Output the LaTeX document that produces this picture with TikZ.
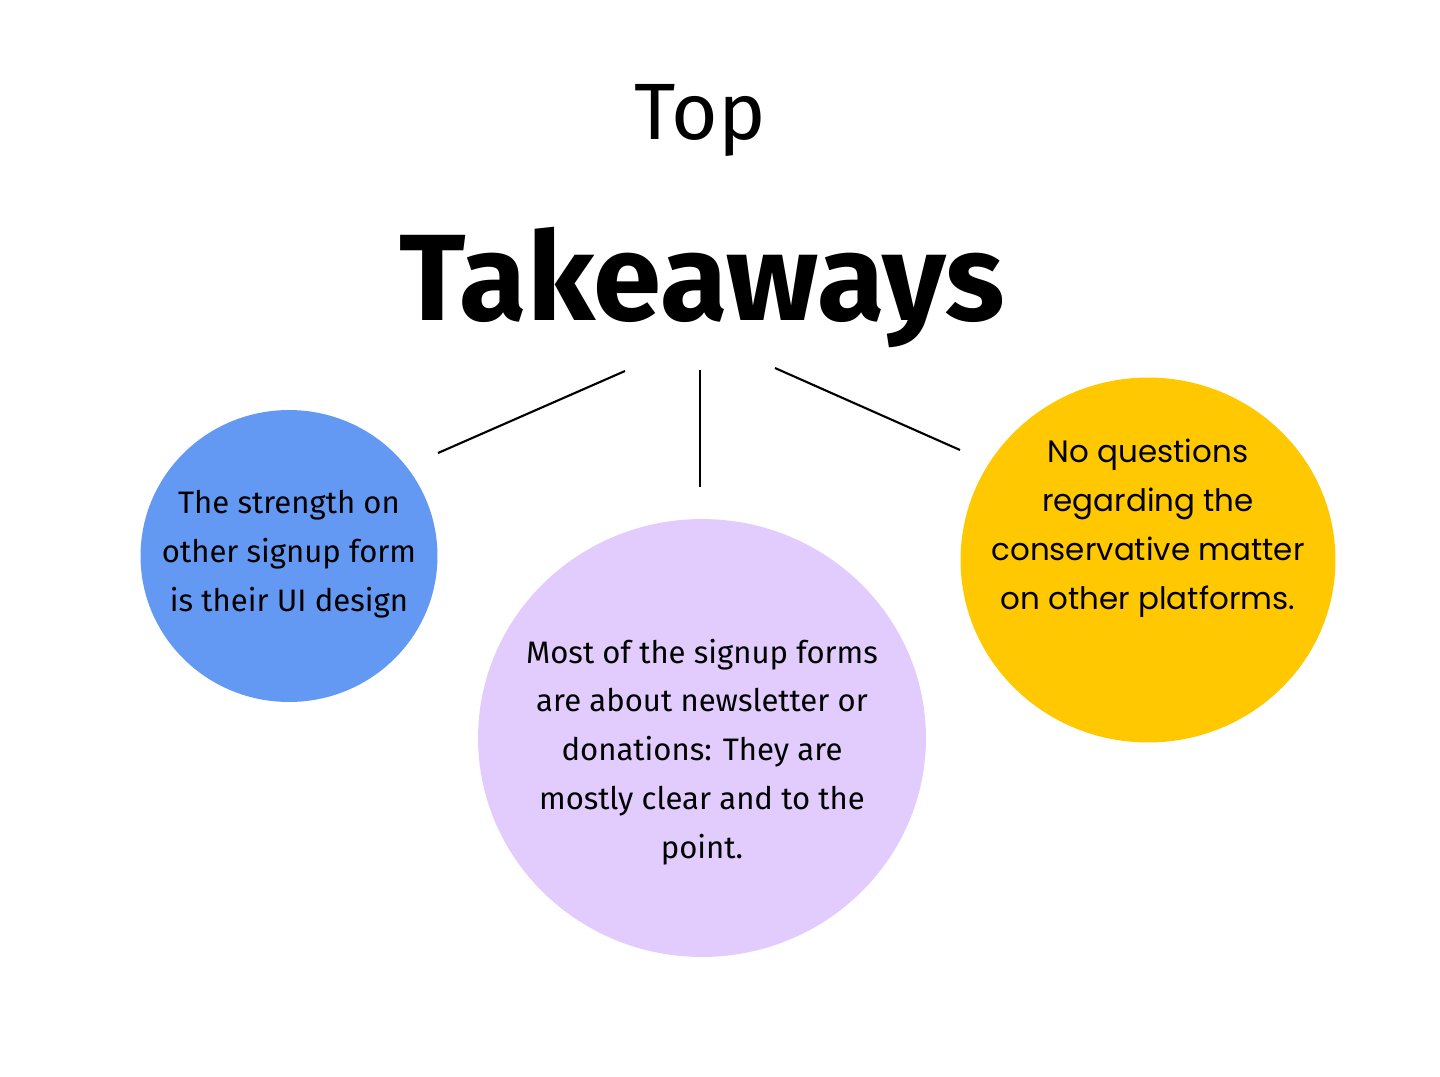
\documentclass[tikz,border=0pt]{standalone}
\usepackage{fontspec}
\setmainfont{Fira Sans}
\newfontfamily\roundfont{Poppins}
\usepackage{tikz}
\usetikzlibrary{shapes.geometric}
\definecolor{ballblue}{HTML}{6499F3}
\definecolor{balllilac}{HTML}{E2CCFD}
\definecolor{ballyellow}{HTML}{FFC800}

\tikzset{
  ball/.style={ellipse, inner sep=0pt},
  balltext/.style={align=center, font=\fontsize{17.7}{27.8}\selectfont},
  spoke/.style={line width=1.2pt}
}

\begin{document}
\begin{tikzpicture}[x=0.02cm,y=-0.02cm]
        \useasboundingbox (0,0) rectangle (1440,1076);

        % Titre
        \node[anchor=base] (top) at (700,139) {\fontsize{45.5}{54}\selectfont Top};
        \node[anchor=base] (takeaways) at (702,320) {\fontsize{70}{84}\selectfont\bfseries Takeaways};

        % Les trois bulles
        \node[ball, fill=ballblue, minimum width=5.94cm, minimum height=5.84cm] (left) at (289,556) {};
        \node[ball, fill=balllilac, minimum width=8.96cm, minimum height=8.76cm] (middle) at (702,738) {};
        \node[ball, fill=ballyellow, minimum width=7.5cm, minimum height=7.3cm] (right) at (1148,560) {};

        % Textes
        \node[balltext] (lefttext) at (289,554) {The strength on\\other signup form\\is their UI design};
        \node[balltext] (middletext) at (702,752) {Most of the signup forms\\are about newsletter or\\donations: They are\\mostly clear and to the\\point.};
        \node[balltext, font=\roundfont\fontsize{17.6}{27.8}\selectfont] (righttext) at (1148,528) {No questions\\regarding the\\conservative matter\\on other platforms.};

        % Traits
        \coordinate (l1) at (438,453);
        \coordinate (l2) at (625,371);
        \coordinate (m1) at (700,370);
        \coordinate (m2) at (700,487);
        \coordinate (r1) at (775,368);
        \coordinate (r2) at (960,450);
        \draw[spoke] (l1) -- (l2);
        \draw[spoke] (m1) -- (m2);
        \draw[spoke] (r1) -- (r2);
    \end{tikzpicture}
\end{document}
